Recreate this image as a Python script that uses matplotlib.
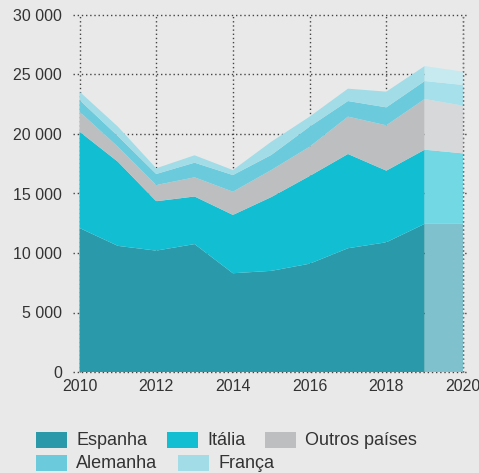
import matplotlib
matplotlib.use("Agg")
import matplotlib.pyplot as plt
import matplotlib.colors as mcolors
from matplotlib.patches import Rectangle
import numpy as np

plt.rcParams['font.family'] = ['Liberation Sans', 'DejaVu Sans']

years = [2010, 2011, 2012, 2013, 2014, 2015, 2016, 2017, 2018, 2019, 2020]
espanha = [12100, 10600, 10200, 10750, 8300, 8500, 9100, 10400, 10900, 12450, 12450]
italia = [8100, 7070, 4150, 4000, 4900, 6200, 7370, 7920, 6020, 6230, 5920]
outros = [1670, 1260, 1360, 1610, 1950, 2270, 2460, 3140, 3810, 4260, 4010]
alemanha = [990, 900, 930, 1230, 1400, 1270, 1690, 1310, 1510, 1510, 1740]
franca = [700, 790, 480, 620, 420, 1110, 840, 1040, 1320, 1260, 1120]

labels = ['Espanha', 'Itália', 'Outros países', 'Alemanha', 'França']
colors = ['#2a9aab', '#12bed2', '#bdbec0', '#6bcbdc', '#a2dce7']
proj_start = 2019  # last stretch drawn lighter

yticks = [0, 5000, 10000, 15000, 20000, 25000, 30000]
xticks = [2010, 2012, 2014, 2016, 2018, 2020]

bg = '#e9e9e9'
fig = plt.figure(figsize=(4.79, 4.73), dpi=100, facecolor=bg)
W, H = 479, 473
ax = fig.add_axes([73 / W, 101 / H, (468 - 73) / W, (458 - 101) / H])
ax.set_facecolor(bg)

series = np.array([espanha, italia, outros, alemanha, franca])
yrs = np.array(years)

# dotted grid behind the areas
for y in yticks:
    ax.plot([2009.83, 2020.13], [y, y], ls=(0, (1, 2)), color='#444444',
            lw=1.0, zorder=1, clip_on=False)
for x in xticks:
    ax.plot([x, x], [0, 30000], ls=(0, (1, 2)), color='#444444',
            lw=1.0, zorder=1, clip_on=False)

hist = yrs <= proj_start
proj = yrs >= proj_start
ax.stackplot(yrs[hist], series[:, hist], colors=colors, zorder=2, lw=0)

def lighten(c, a=0.4):
    r = np.array(mcolors.to_rgb(c))
    return tuple(r + (1 - r) * a)

ax.stackplot(yrs[proj], series[:, proj], colors=[lighten(c) for c in colors],
             zorder=2, lw=0)

# right edge line over the areas
ax.plot([2020, 2020], [0, 30000], ls=(0, (1, 2)), color='#777777',
        lw=1.0, zorder=3, clip_on=False)

ax.set_xlim(2009.83, 2020.13)
ax.set_ylim(0, 30000)
for s in ax.spines.values():
    s.set_visible(False)
ax.set_yticks(yticks)
ax.set_yticklabels(['0' if v == 0 else f'{v // 1000} 000' for v in yticks])
ax.set_xticks(xticks)
ax.set_xticklabels([str(x) for x in xticks])
ax.tick_params(axis='both', length=0, labelsize=11.5, colors='#333333')
ax.tick_params(axis='y', pad=8)
ax.tick_params(axis='x', pad=5)

# legend, two rows
entries = [(36, 432), (167, 432), (265, 432), (36, 455), (178, 455)]
for (px, py), lab, col in zip(entries, labels, colors):
    fig.add_artist(Rectangle((px / W, 1 - (py + 16) / H), 31 / W, 16 / H,
                             transform=fig.transFigure, color=col, lw=0))
    fig.text((px + 40) / W, 1 - (py + 8) / H, lab, fontsize=13,
             color='#333333', va='center', ha='left')

fig.savefig('out.png', dpi=100, facecolor=bg)
